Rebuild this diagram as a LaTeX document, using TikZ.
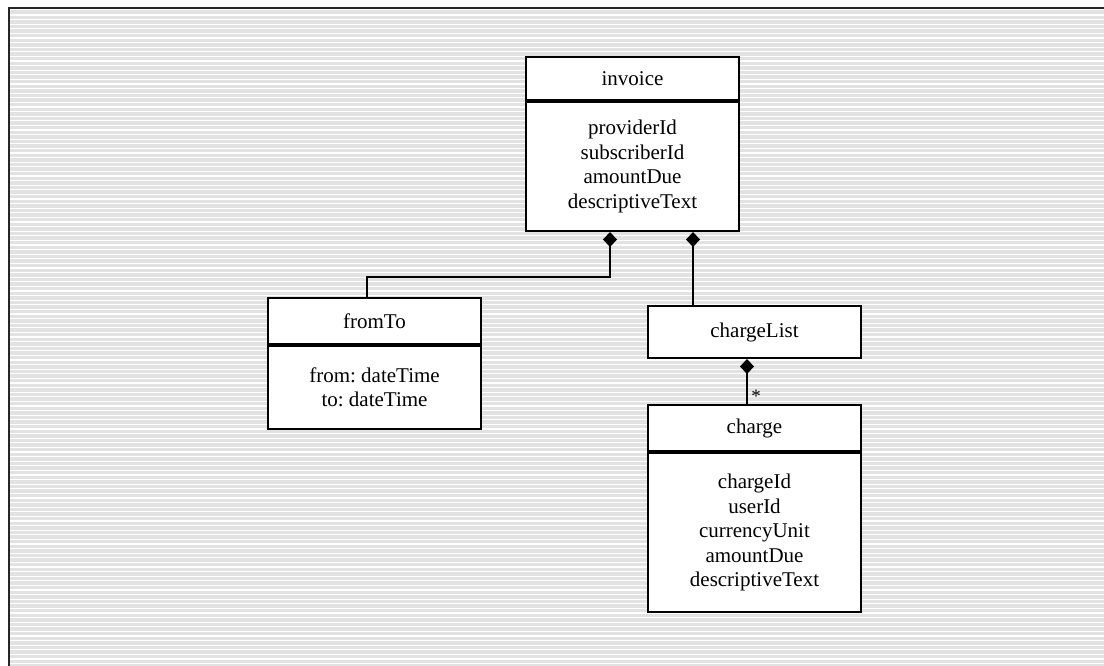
\documentclass[tikz,border=0pt]{standalone}
\usepackage{fontspec}
\setmainfont{Liberation Serif}
\frenchspacing
\usetikzlibrary{arrows.meta,calc}
\definecolor{bggrey}{RGB}{226,226,226}
\tikzset{
  umlhead/.style={draw, line width=2pt, fill=white, minimum width=213pt,
    inner sep=0pt, font=\fontsize{21}{24.5}\selectfont, anchor=north},
  umlbody/.style={umlhead, align=center},
  link/.style={line width=1.8pt},
  comp/.style={link, -{Diamond[width=14pt,length=15pt]}},
  mult/.style={inner sep=0pt, font=\fontsize{19}{19}\selectfont}
}
\begin{document}
\begin{tikzpicture}[x=1pt,y=-1pt]
  \useasboundingbox (0,0) rectangle (1104,666);
  % striped backdrop and frame
  \fill[bggrey] (10,10) rectangle (1104,666);
  \foreach \k in {0,...,141}
    \draw[white, line width=1.3pt] (10,15+4.6*\k) -- (1104,15+4.6*\k);
  \draw[line width=2pt, black!85] (9,666) -- (9,8) -- (1104,8);

  % classes
  \node[umlhead, minimum height=43pt] (invh) at (632.5,56) {invoice};
  \node[umlbody, minimum height=129pt] (invb) at (invh.south)
    {providerId\\subscriberId\\amountDue\\descriptiveText};

  \node[umlhead, minimum height=46pt] (fth) at (374.5,297) {fromTo};
  \node[umlbody, minimum height=83pt] (ftb) at (fth.south)
    {from: dateTime\\to: dateTime};

  \node[umlhead, minimum height=52pt] (cl) at (754.5,305) {chargeList};

  \node[umlhead, minimum height=46pt] (chh) at (754.5,404) {charge};
  \node[umlbody, minimum height=159pt] (chb) at (chh.south)
    {chargeId\\userId\\currencyUnit\\amountDue\\descriptiveText};

  % attachment points
  \coordinate (invL) at ([xshift=-22.5pt]invb.south);
  \coordinate (invR) at ([xshift=60.5pt]invb.south);
  \coordinate (ftT) at ([xshift=-7.5pt]fth.north);
  \coordinate (clB) at ([xshift=-7.5pt]cl.south);

  % compositions
  \draw[comp] (ftT) -- ++(0,-20) -| (invL);
  \draw[comp] (cl.north -| invR) -- (invR);
  \draw[comp] (chh.north -| clB) -- (clB);
  \node[mult] (many) at ([xshift=9pt,yshift=8pt]chh.north -| clB) {*};
\end{tikzpicture}
\end{document}
